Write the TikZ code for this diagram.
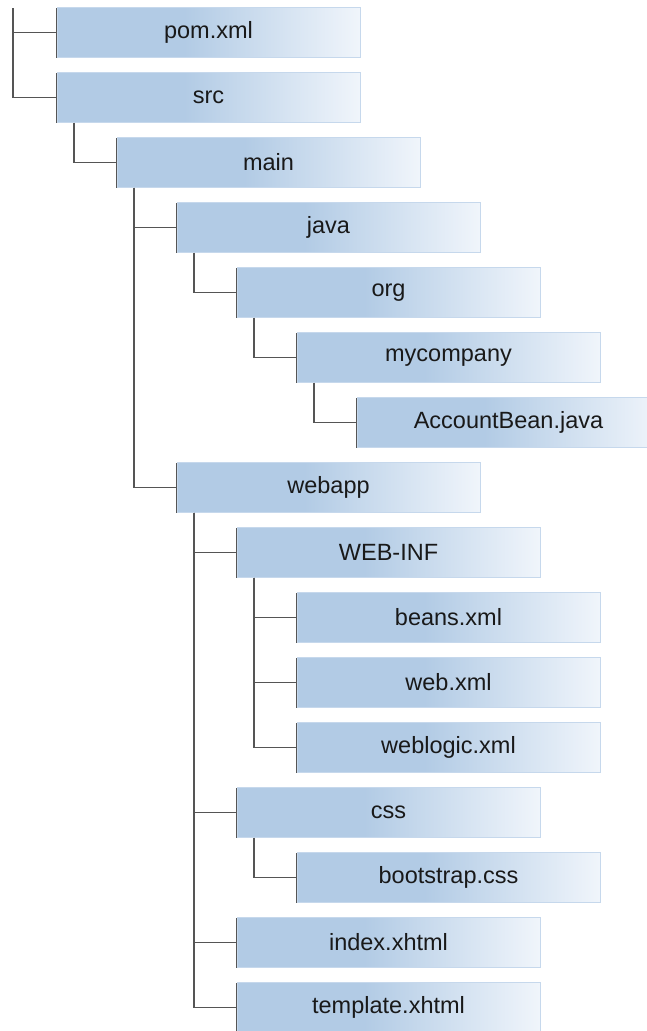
\documentclass[tikz,border=0pt]{standalone}
\usepackage{fontspec}
\setmainfont{Liberation Sans}
\usepackage{xcolor}
\usetikzlibrary{positioning,calc}

\definecolor{boxblue}{HTML}{B2CBE5}
\definecolor{boxlight}{HTML}{F0F5FB}
\definecolor{boxrim}{HTML}{C6D8EC}
\definecolor{edgegray}{HTML}{555555}
\pgfdeclarehorizontalshading{boxfade}{100bp}{color(0bp)=(boxblue); color(25bp)=(boxblue); color(46bp)=(boxblue); color(75bp)=(boxlight); color(100bp)=(boxlight)}

\begin{document}
\begin{tikzpicture}[x=1pt, y=-1pt,
  folder/.style={rectangle, shading=boxfade, draw=boxrim, line width=1pt,
    minimum width=303pt, minimum height=50pt, inner sep=0pt, outer sep=0pt,
    font=\fontsize{23.5}{28}\selectfont, text=black!90,
    append after command={\pgfextra{\draw[edgegray, line width=1.6pt]
      (\tikzlastnode.north west) -- (\tikzlastnode.south west) -- (\tikzlastnode.south east);}}},
  link/.style={draw=edgegray, line width=1.8pt}]
  \useasboundingbox (0,0) rectangle (647,1031);
  % folder boxes, one row each
  \node[folder] (pom) at (208.5,32.5) {pom.xml};
  \node[folder] (src) at (208.5,97.5) {src};
  \node[folder] (main) at (268.5,162.5) {main};
  \node[folder] (java) at (328.5,227.5) {java};
  \node[folder] (org) at (388.5,292.5) {org};
  \node[folder] (mycompany) at (448.5,357.5) {mycompany};
  \node[folder] (accountbean) at (508.5,422.5) {AccountBean.java};
  \node[folder] (webapp) at (328.5,487.5) {webapp};
  \node[folder] (webinf) at (388.5,552.5) {WEB-INF};
  \node[folder] (beans) at (448.5,617.5) {beans.xml};
  \node[folder] (webxml) at (448.5,682.5) {web.xml};
  \node[folder] (weblogic) at (448.5,747.5) {weblogic.xml};
  \node[folder] (css) at (388.5,812.5) {css};
  \node[folder] (bootstrap) at (448.5,877.5) {bootstrap.css};
  \node[folder] (index) at (388.5,942.5) {index.xhtml};
  \node[folder] (template) at (388.5,1007.5) {template.xhtml};
  \coordinate (root) at (13,8);
  % tree lines
  \draw[link] (root) |- (pom.west);
  \draw[link] (root) |- (src.west);
  \draw[link] ([xshift=17pt]src.south west) |- (main.west);
  \draw[link] ([xshift=17pt]main.south west) |- (java.west);
  \draw[link] ([xshift=17pt]main.south west) |- (webapp.west);
  \draw[link] ([xshift=17pt]java.south west) |- (org.west);
  \draw[link] ([xshift=17pt]org.south west) |- (mycompany.west);
  \draw[link] ([xshift=17pt]mycompany.south west) |- (accountbean.west);
  \draw[link] ([xshift=17pt]webapp.south west) |- (webinf.west);
  \draw[link] ([xshift=17pt]webapp.south west) |- (css.west);
  \draw[link] ([xshift=17pt]webapp.south west) |- (index.west);
  \draw[link] ([xshift=17pt]webapp.south west) |- (template.west);
  \draw[link] ([xshift=17pt]webinf.south west) |- (beans.west);
  \draw[link] ([xshift=17pt]webinf.south west) |- (webxml.west);
  \draw[link] ([xshift=17pt]webinf.south west) |- (weblogic.west);
  \draw[link] ([xshift=17pt]css.south west) |- (bootstrap.west);
\end{tikzpicture}
\end{document}
